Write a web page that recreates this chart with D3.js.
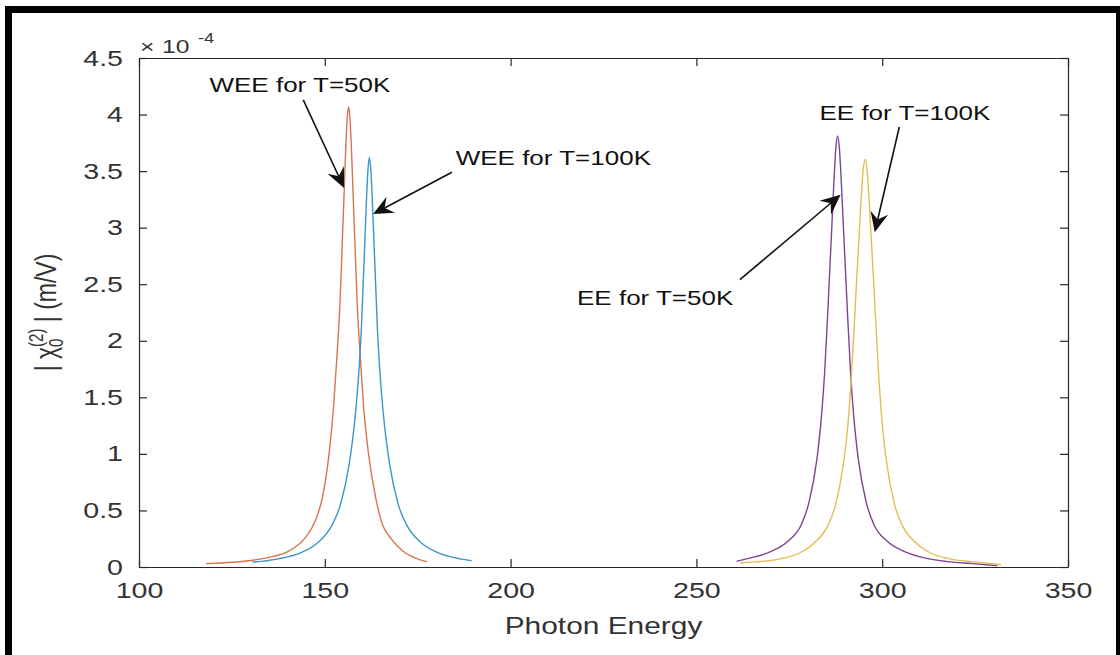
<!DOCTYPE html>
<html>
<head>
<meta charset="utf-8">
<script src="https://cdn.jsdelivr.net/npm/d3@7"></script>
<style>
  html, body { margin: 0; padding: 0; background: #fff; }
  svg { display: block; }
  text { font-family: 'Liberation Sans', Arial, Helvetica, sans-serif; }
</style>
</head>
<body>
<svg id="chart" width="1120" height="655"></svg>
<script>
// Second-order susceptibility |chi0^(2)| (x1e-4 m/V) versus photon energy
const wee50Energy = [118, 128.4, 134.35, 140.4, 144.35, 147.42, 149.33, 151.21, 152.38, 153.21, 154.12, 154.68, 155.14, 155.59, 155.99, 156.4,
                     156.81, 157.21, 157.66, 158.12, 158.68, 159.59, 160.42, 161.7, 163.7, 165.2, 168.0, 171.0, 174.0, 177.5];
const wee50Chi    = [0.03, 0.051, 0.081, 0.142, 0.244, 0.407, 0.611, 1.018, 1.425, 1.832, 2.361, 2.849, 3.256, 3.663, 3.948, 4.07,
                     3.948, 3.663, 3.256, 2.849, 2.361, 1.832, 1.425, 1.018, 0.611, 0.407, 0.244, 0.142, 0.085, 0.045];

const wee100Energy = [130.5, 137.5, 143.6, 148.15, 151.8, 154.14, 156.54, 157.98, 158.96, 159.83, 160.36, 160.8, 161.23, 161.61, 162.0,
                      162.39, 162.77, 163.2, 163.64, 164.17, 165.04, 166.02, 167.46, 169.86, 172.2, 175.85, 180.4, 186.5, 189.5];
const wee100Chi    = [0.043, 0.072, 0.127, 0.217, 0.362, 0.543, 0.905, 1.267, 1.629, 2.10, 2.534, 2.896, 3.258, 3.51, 3.62,
                      3.51, 3.258, 2.896, 2.534, 2.10, 1.629, 1.267, 0.905, 0.543, 0.362, 0.217, 0.127, 0.072, 0.055];

const ee50Energy = [260.8, 264.0, 269.8, 274.7, 278.31, 280.3, 282.43, 283.66, 284.5, 285.29, 285.95, 286.5, 287.04, 287.51, 288.0,
                    288.49, 288.96, 289.5, 290.05, 290.71, 291.5, 292.34, 293.57, 295.7, 297.69, 301.3, 306.2, 312.0, 317.5, 324.3, 331];
const ee50Chi    = [0.05, 0.076, 0.133, 0.229, 0.381, 0.572, 0.953, 1.334, 1.715, 2.21, 2.667, 3.048, 3.429, 3.696, 3.81,
                    3.696, 3.429, 3.048, 2.667, 2.21, 1.715, 1.334, 0.953, 0.572, 0.381, 0.229, 0.133, 0.076, 0.048, 0.03, 0.012];

const ee100Energy = [261.8, 265.9, 272.6, 277.9, 281.83, 285.3, 287.38, 289.5, 290.78, 291.6, 292.41, 293.1, 293.72, 294.32, 294.85, 295.4,
                     295.95, 296.48, 297.08, 297.7, 298.39, 299.2, 300.02, 301.3, 303.42, 305.5, 308.97, 312.9, 318.2, 324.9, 332];
const ee100Chi    = [0.038, 0.045, 0.072, 0.126, 0.216, 0.361, 0.541, 0.901, 1.262, 1.622, 2.091, 2.524, 2.884, 3.245, 3.497, 3.605,
                     3.497, 3.245, 2.884, 2.524, 2.091, 1.622, 1.262, 0.901, 0.541, 0.361, 0.216, 0.126, 0.072, 0.045, 0.02];

const seriesNames  = ["WEE 50K", "WEE 100K", "EE 50K", "EE 100K"];
const seriesColors = ["#d9744d", "#3f95c6", "#7d4590", "#e3bd52"];

const xTicks = [100, 150, 200, 250, 300, 350];
const yTicks = [0, 0.5, 1, 1.5, 2, 2.5, 3, 3.5, 4, 4.5];

// annotation texts, their anchor points and arrows (data units)
const noteLabels = ["WEE for T=50K", "WEE for T=100K", "EE for T=50K", "EE for T=100K"];
const noteTextX  = [143.3, 211.5, 238.9, 306.1];
const noteTextY  = [4.20, 3.554, 2.317, 3.952];
const arrowFromX = [144.2, 184.2, 261.7, 304.6];
const arrowFromY = [4.13, 3.49, 2.54, 3.89];
const arrowToX   = [155.2, 163.0, 288.8, 298.0];
const arrowToY   = [3.35, 3.12, 3.29, 2.96];

const SX = 1.3;          // horizontal stretch applied to all lettering
const W = 1120, H = 655;
const plot = { left: 139, top: 58, right: 1068, bottom: 567 };

const svg = d3.select("#chart");

const x = d3.scaleLinear().domain([100, 350]).range([plot.left, plot.right]);
const y = d3.scaleLinear().domain([0, 4.5]).range([plot.bottom, plot.top]);

// black frame
svg.append("rect").attr("x", 5).attr("y", 6).attr("width", W - 5).attr("height", 7).attr("fill", "#000");
svg.append("rect").attr("x", 5).attr("y", 6).attr("width", 7).attr("height", H - 6).attr("fill", "#000");
svg.append("rect").attr("x", 1116).attr("y", 6).attr("width", 4).attr("height", H - 6).attr("fill", "#000");

// curves
const series = [
  [wee50Energy, wee50Chi],
  [wee100Energy, wee100Chi],
  [ee50Energy, ee50Chi],
  [ee100Energy, ee100Chi]
];
const line = d3.line().x(d => x(d[0])).y(d => y(d[1])).curve(d3.curveMonotoneX);
const curves = svg.append("g").attr("class", "curves");
series.forEach((s, i) => {
  const pts = s[0].map((e, k) => [e, s[1][k]]);
  curves.append("path")
    .datum(pts)
    .attr("d", line)
    .attr("fill", "none")
    .attr("stroke", seriesColors[i])
    .attr("stroke-width", 1.4)
    .attr("stroke-linejoin", "round")
    .attr("data-name", seriesNames[i]);
});

// axes: ticks pointing inward on all four sides
const axisColor = "#262626";
function styleAxis(g) {
  g.selectAll("path.domain").attr("stroke", axisColor).attr("stroke-width", 1.2);
  g.selectAll(".tick line").attr("stroke", axisColor).attr("stroke-width", 1.2);
  g.selectAll(".tick text").attr("fill", "#333").style("font-size", "22px");
}

const gx = svg.append("g").attr("transform", `translate(0,${plot.bottom})`)
  .call(d3.axisBottom(x).tickValues(xTicks).tickSizeInner(-8).tickSizeOuter(0).tickPadding(15).tickFormat(d3.format("d")));
styleAxis(gx);
gx.selectAll(".tick text").attr("transform", `scale(${SX},1)`);

const gy = svg.append("g").attr("transform", `translate(${plot.left},0)`)
  .call(d3.axisLeft(y).tickValues(yTicks).tickSizeInner(-8).tickSizeOuter(0).tickPadding(16).tickFormat(d3.format("~g")));
styleAxis(gy);
gy.selectAll(".tick text").attr("x", -16 / SX).attr("transform", `scale(${SX},1)`);

const gt = svg.append("g").attr("transform", `translate(0,${plot.top})`)
  .call(d3.axisTop(x).tickValues(xTicks).tickSizeInner(-8).tickSizeOuter(0).tickFormat(""));
styleAxis(gt);

const gr = svg.append("g").attr("transform", `translate(${plot.right},0)`)
  .call(d3.axisRight(y).tickValues(yTicks).tickSizeInner(-8).tickSizeOuter(0).tickFormat(""));
styleAxis(gr);

// exponent marker
const expo = svg.append("g").attr("fill", "#333");
expo.append("text").attr("transform", `translate(140,53) scale(${SX},1)`).style("font-size", "19px").text("\u00d7");
expo.append("text").attr("transform", `translate(162,53) scale(${SX},1)`).style("font-size", "19px").text("10");
expo.append("text").attr("transform", `translate(198,43) scale(${SX},1)`).style("font-size", "14px").text("-4");

// x axis title
svg.append("text")
  .attr("transform", `translate(${(plot.left + plot.right) / 2},634) scale(${SX},1)`)
  .attr("text-anchor", "middle").attr("fill", "#333").style("font-size", "23px")
  .text("Photon Energy");

// y axis title: | chi_0^(2) | (m/V)
const yl = svg.append("text")
  .attr("transform", `translate(56,${(plot.top + plot.bottom) / 2}) rotate(-90) scale(1,${SX})`)
  .attr("text-anchor", "middle").attr("fill", "#333").style("font-size", "23px");
yl.append("tspan").text("| \u03c7");
yl.append("tspan").attr("dy", 5).style("font-size", "15px").text("0");
yl.append("tspan").attr("dx", -8.3).attr("dy", -15).style("font-size", "15px").text("(2)");
yl.append("tspan").attr("dy", 10).text(" | (m/V)");

// annotations
const notes = svg.append("g").attr("class", "notes");
noteLabels.forEach((lab, i) => {
  notes.append("text")
    .attr("transform", `translate(${x(noteTextX[i])},${y(noteTextY[i])}) scale(${SX},1)`)
    .attr("text-anchor", "middle").attr("fill", "#111").style("font-size", "20px")
    .text(lab);

  const x0 = x(arrowFromX[i]), y0 = y(arrowFromY[i]);
  const x1 = x(arrowToX[i]), y1 = y(arrowToY[i]);
  const ang = Math.atan2(y1 - y0, x1 - x0);
  const L = 20, hw = 9, notch = 13;
  const ca = Math.cos(ang), sa = Math.sin(ang);
  const P = (a, b) => [x1 + a * ca - b * sa, y1 + a * sa + b * ca];
  notes.append("line")
    .attr("x1", x0).attr("y1", y0)
    .attr("x2", P(-notch, 0)[0]).attr("y2", P(-notch, 0)[1])
    .attr("stroke", "#111").attr("stroke-width", 1.6);
  notes.append("path")
    .attr("d", d3.line()([P(0, 0), P(-L, hw), P(-notch, 0), P(-L, -hw)]) + "Z")
    .attr("fill", "#111");
});
</script>
</body>
</html>
